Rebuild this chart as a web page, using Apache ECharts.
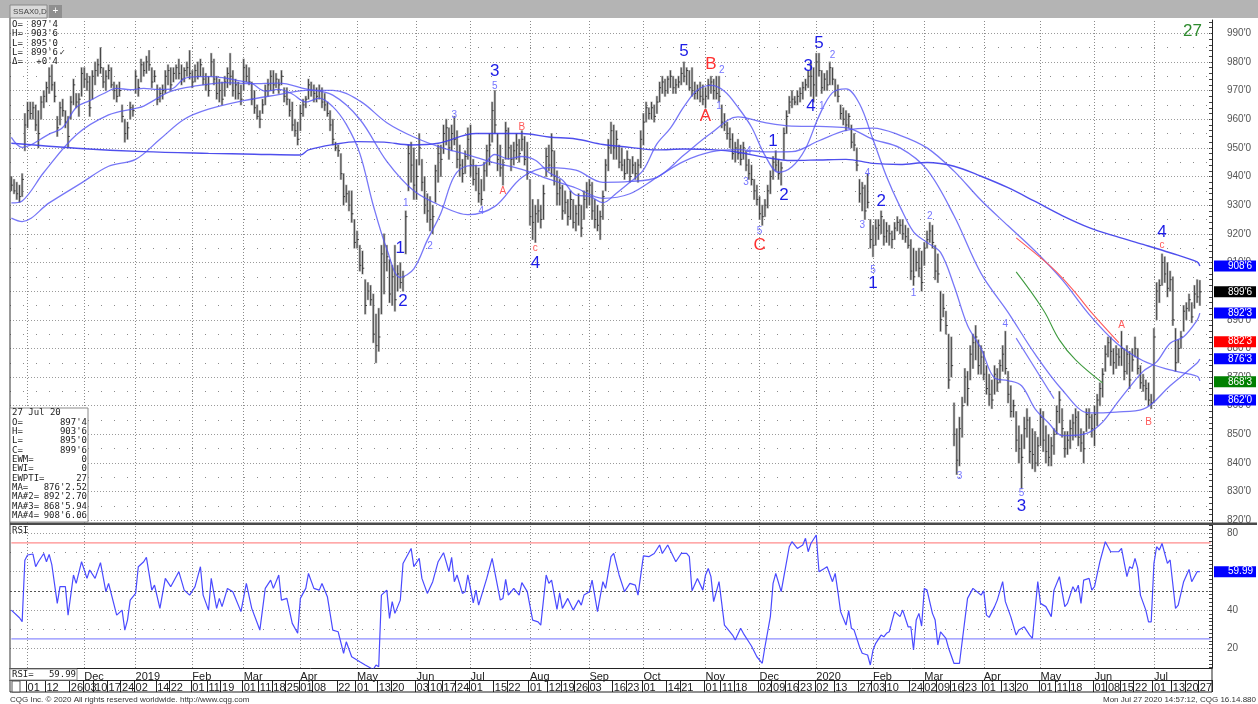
<!DOCTYPE html>
<html><head><meta charset="utf-8">
<script src="https://cdn.jsdelivr.net/npm/echarts@6/dist/echarts.min.js"></script>
<style>html,body{margin:0;padding:0;background:#fff;width:1258px;height:704px;overflow:hidden}#c{width:1258px;height:704px}</style>
</head><body><div id="c"></div><script>
const highs=[940,939,938,937,941,962,966,966,966,965,
963,968,970,973,978,979,973,961,966,967,
963,961,968,974,969,969,978,978,976,975,
977,980,981,985,978,977,979,978,973,972,
973,965,960,959,966,965,977,974,981,980,
982,984,978,977,972,971,972,977,979,978,
978,979,981,979,978,980,984,977,979,980,
981,978,976,975,983,981,975,974,973,975,
978,983,977,974,973,972,981,979,978,973,
970,965,963,967,972,974,977,977,976,974,
977,971,971,967,966,960,959,965,967,968,
974,973,972,971,972,971,969,966,963,960,
952,951,948,941,937,935,935,925,921,916,
914,904,903,902,899,892,894,916,920,916,
911,909,916,909,910,907,928,951,952,950,
946,955,946,940,934,933,930,944,951,951,
958,960,957,958,961,956,951,946,949,957,
958,946,944,943,939,945,951,955,966,970,
955,951,946,959,957,951,952,955,953,956,
954,952,939,932,930,932,930,937,950,951,
955,949,942,939,937,935,932,935,932,930,
934,930,935,938,939,938,932,930,928,935,
946,953,959,958,956,951,950,946,949,946,
947,945,946,956,962,966,964,966,965,968,
973,975,974,975,977,975,974,975,978,980,
978,977,978,973,972,973,972,971,974,975,
974,975,975,965,962,959,957,955,952,953,
951,952,949,946,944,939,937,933,930,932,
937,942,947,949,946,945,957,963,968,970,
968,970,971,973,974,977,980,978,983,983,
977,976,977,980,978,974,972,965,964,963,
962,958,955,950,939,938,937,941,925,923,
925,925,928,925,924,923,921,924,926,925,
925,923,922,918,915,914,915,914,917,921,
924,923,916,913,900,899,893,885,884,861,
852,856,863,873,872,881,885,888,883,881,
879,874,871,869,874,873,876,881,886,872,
867,862,858,853,850,856,859,856,852,851,
849,859,858,853,850,849,852,860,865,859,
851,851,855,857,859,858,852,851,859,859,
857,860,864,868,873,881,884,884,880,881,
880,886,880,881,879,880,884,880,874,871,
869,868,864,887,903,904,913,912,910,907,
905,887,883,886,895,896,899,896,902,904,
903.75];
const lows=[935,934,932,931,933,949,957,960,960,956,
950,960,964,966,969,970,966,954,958,961,
957,950,960,965,964,961,968,971,970,961,
967,972,975,976,971,970,974,971,967,966,
968,959,952,953,960,961,969,968,973,975,
976,977,971,973,965,966,967,969,972,970,
973,974,974,972,973,975,974,971,973,974,
975,972,970,968,975,972,967,966,965,968,
971,972,968,967,967,965,970,973,972,965,
962,960,957,962,965,968,970,969,971,969,
972,966,965,961,956,954,951,956,961,964,
967,968,966,966,967,964,963,961,956,951,
949,947,939,930,931,928,924,915,915,907,
906,892,897,895,882,875,879,892,899,907,
896,895,893,900,901,900,913,935,938,932,
932,944,935,927,924,921,920,931,938,940,
948,951,946,949,951,943,940,938,941,946,
940,937,935,931,930,935,940,944,952,955,
942,940,937,946,946,942,944,946,945,949,
944,939,923,918,917,924,922,925,940,942,
940,937,930,930,925,927,923,925,922,921,
923,919,925,929,930,925,922,921,918,925,
935,942,948,946,946,943,942,939,941,938,
941,939,938,943,951,959,960,960,959,962,
966,969,968,969,971,969,969,971,972,973,
972,970,968,967,967,966,965,964,967,969,
967,967,966,957,956,953,950,946,945,946,
944,946,942,939,937,932,930,925,923,926,
929,934,939,942,939,937,946,955,962,964,
965,965,966,967,970,971,968,966,968,975,
969,970,970,972,972,968,966,960,958,956,
957,950,949,942,931,928,925,929,915,912,
916,918,920,916,917,916,915,918,921,920,
918,917,915,904,902,907,905,900,909,915,
917,915,904,903,886,891,885,866,870,846,
836,839,849,861,860,869,873,876,871,871,
869,864,860,859,864,865,868,872,871,861,
856,856,844,840,831,845,849,840,838,837,
839,846,844,840,839,839,843,850,854,849,
842,843,845,848,849,846,844,840,851,852,
849,846,853,860,863,872,877,874,871,873,
874,874,869,871,866,872,877,871,866,865,
862,860,859,861,890,896,902,903,898,900,
888,872,875,880,886,890,893,889,894,896,
895];
const closes=[937,935,934,933,939,958,963,962,964,958,
955,966,968,971,975,972,968,957,964,963,
959,954,966,972,966,967,976,974,973,964,
975,977,979,978,973,975,977,972,970,968,
970,961,955,957,964,963,975,971,979,977,
980,979,973,975,967,969,970,975,977,972,
976,978,976,974,977,978,976,973,977,975,
979,974,972,970,980,974,969,970,967,973,
976,975,970,972,969,967,978,975,973,967,
964,961,960,965,970,972,975,972,974,972,
975,968,967,963,958,956,953,962,965,967,
972,970,969,968,970,966,965,962,958,953,
950,949,941,933,934,930,927,917,918,909,
908,895,900,897,885,881,884,913,910,912,
899,905,897,906,903,905,926,948,944,937,
940,950,938,930,928,925,926,942,948,946,
955,957,950,955,953,946,944,941,947,953,
944,939,941,934,932,942,949,951,963,958,
946,943,944,956,950,946,949,951,948,953,
946,941,926,924,927,928,925,934,947,944,
949,940,934,936,928,931,926,932,924,927,
930,922,932,935,937,928,925,923,926,933,
944,950,956,950,953,945,944,941,946,940,
944,941,944,953,959,964,962,964,961,966,
971,973,970,974,975,971,972,973,976,975,
977,971,970,969,970,968,967,968,972,973,
970,969,968,959,958,955,953,948,950,948,
946,950,944,941,939,935,932,927,926,930,
935,940,945,944,941,943,955,961,966,967,
966,968,969,971,972,975,975,972,980,977,
971,974,972,978,974,970,968,962,960,958,
961,952,951,944,934,936,928,931,918,916,
922,923,926,919,921,920,918,922,924,923,
920,919,916,907,905,910,908,903,915,918,
921,917,907,906,890,894,888,869,874,850,
841,852,860,870,866,878,882,884,874,877,
871,866,864,862,871,868,874,878,873,864,
858,860,848,845,842,852,855,844,843,840,
846,856,848,844,842,846,850,858,862,852,
845,848,852,854,856,849,847,845,857,856,
852,857,862,866,871,878,882,879,875,878,
877,880,872,878,869,876,880,873,868,867,
866,862,861,884,900,902,910,906,901,904,
890,875,880,884,893,894,897,891,899,898,
899.75];
// moving averages: [bar index, value]
const ma20=[[0,953.7],[4,950.2],[14,954.8],[19,957.1],[24,964.1],[29,966.5],[34,968.9],[39,970.8],[44,970.3],[49,970.8],[54,970.4],[59,970.5],[64,974.2],[69,974.9],[74,974.9],[79,974.4],[84,973.5],[89,972.5],[94,969.8],[99,970.4],[104,968.8],[109,966.0],[114,967.4],[119,964.4],[124,958.2],[129,948.1],[134,929.9],[139,914.7],[144,904.8],[149,907.8],[154,917.8],[159,927.2],[164,940.2],[169,943.7],[174,943.9],[179,947.7],[184,946.2],[189,947.0],[194,945.7],[199,941.4],[204,938.8],[209,933.5],[214,933.1],[219,930.9],[224,934.2],[229,938.0],[234,942.3],[239,951.4],[244,956.9],[249,964.4],[254,970.2],[259,971.8],[264,969.8],[269,964.2],[274,957.3],[279,947.4],[284,941.5],[289,943.4],[294,949.7],[299,961.1],[304,969.3],[309,970.6],[314,965.4],[319,952.9],[324,940.0],[329,929.5],[334,920.7],[339,917.0],[344,913.5],[349,901.9],[354,888.0],[359,880.0],[364,869.7],[369,868.8],[374,867.0],[379,858.9],[384,854.0],[389,849.6],[394,849.7],[399,850.7],[404,854.3],[409,860.5],[414,866.5],[419,872.0],[424,875.3],[429,881.8],[434,884.1],[439,889.9],[440,892.3]];
const ma50=[[0,930.8],[4,931.5],[12,941.4],[24,954.5],[36,961.5],[46,963.8],[49,964.6],[59,969.7],[69,971.7],[79,972.8],[89,972.4],[99,972.6],[109,970.6],[119,968.4],[129,960.0],[139,945.3],[149,935.0],[159,929.8],[169,926.7],[179,929.6],[189,939.7],[199,943.1],[209,942.2],[219,938.0],[229,938.3],[239,939.7],[249,947.5],[259,955.1],[269,960.8],[279,958.8],[289,957.6],[299,957.5],[309,957.1],[319,953.0],[329,950.0],[339,942.4],[349,926.3],[359,906.2],[369,892.6],[379,878.0],[389,865.6],[399,857.5],[409,857.8],[419,858.8],[429,867.0],[439,874.9],[440,876.3]];
const ma100=[[0,925.5],[4,924.3],[14,930.8],[26,937.8],[36,943.6],[46,946],[55,953],[64,960],[73,963.5],[86,966.5],[99,968.6],[109,970.1],[119,970.1],[129,966.4],[139,958.8],[149,953.8],[159,950.2],[169,947.6],[179,944.8],[189,942.5],[199,939.1],[209,936.0],[219,932.4],[229,934.0],[239,939.7],[249,945.3],[259,948.6],[269,949.4],[279,948.6],[289,948.7],[299,952.5],[309,956.1],[319,956.9],[329,954.4],[339,950.0],[349,941.9],[359,931.7],[369,922.8],[379,914.0],[389,904.0],[399,891.9],[409,882.0],[419,875.7],[429,872.5],[439,870.3],[440,868.7]];
const ma200=[[0,951.6],[24,949.9],[49,948.7],[73,948.1],[90,947.8],[107,947.5],[110,949.3],[120,951.3],[128,952.2],[138,952],[148,951],[158,951.6],[172,955],[189,955],[199,953.8],[209,953.1],[219,951.2],[229,950.2],[239,949.3],[249,949.6],[259,949.4],[269,948.5],[279,946.7],[289,945.6],[299,945.8],[309,946.0],[319,944.6],[329,944.2],[339,944.9],[349,943.6],[359,940.1],[369,936.1],[379,931.3],[389,926.4],[399,922.2],[409,919.1],[419,916.3],[429,913.4],[439,910.2],[440,908.8]];
const redProj=[[372,918.6],[382,910.9],[388,905.7],[394,899.4],[400,892.4],[410,882.0]];
const greenProj=[[372,906.7],[382,893.5],[388,883],[394,876],[404,868]];
const blueProj=[[372,883.6],[386,862.5]];
const rsi=[[0,40],[3,36],[4,34],[5,66],[6,68.7],[8,69.2],[9,62.6],[10,65.2],[12,69.5],[13,65.2],[14,69],[15,63.5],[17,43.5],[18,52.2],[20,52.2],[21,37.4],[23,58.3],[24,53.9],[26,65.2],[28,56.5],[29,60.9],[31,56.5],[33,64.7],[35,49.6],[36,53.9],[39,37.4],[41,40],[42,29.6],[43,34.8],[44,45.2],[46,48.7],[47,62.6],[49,65.2],[50,67.5],[52,50.4],[53,53],[55,40.9],[57,56.5],[59,52.2],[60,54.8],[62,60],[64,50.4],[66,47.8],[68,52.2],[70,62.6],[71,47.8],[73,40],[74,56.5],[76,40.9],[77,46.1],[78,41.8],[80,51.3],[82,49.6],[85,39.2],[87,53.9],[89,40.9],[92,29.6],[94,51.3],[96,55.6],[97,51.3],[99,58.3],[100,45.2],[102,46.1],[104,33.1],[106,27.9],[107,46.1],[109,51.3],[110,59.1],[112,51.3],[114,50.4],[115,53.9],[117,47],[119,29.6],[121,28.7],[123,17.5],[124,23.5],[126,15.7],[129,13.1],[131,11.4],[134,9.1],[135,11.4],[136,10.5],[137,47.8],[139,50.4],[140,35.7],[141,44.4],[142,38.3],[144,45.2],[145,64.3],[148,72.1],[149,62.6],[151,66.9],[152,56.5],[154,48.7],[156,54.8],[158,65.2],[160,69.9],[162,60],[163,67.5],[164,54.8],[165,58.3],[167,48.7],[168,49.6],[169,58.3],[171,43.8],[172,50.4],[173,42.6],[176,56.5],[178,66.9],[181,45.2],[182,46.1],[183,56],[184,47.8],[186,51.3],[188,47.8],[189,54.3],[191,49.6],[193,34.8],[195,33.9],[196,32.2],[198,58.3],[199,53.9],[200,55.6],[202,40.4],[203,49],[204,40.9],[206,46.1],[208,40],[210,45.2],[211,42.6],[212,47.8],[214,49.6],[215,55.6],[217,39.2],[219,54.8],[220,51.3],[222,67.8],[223,69.5],[225,58.3],[227,49.6],[229,53.9],[231,53],[232,47.8],[234,68.2],[236,67.8],[238,69.5],[240,73.9],[241,69.5],[243,73.9],[246,65.2],[248,69.5],[250,69.5],[251,67.8],[252,50.1],[254,56.5],[256,50.4],[257,58.3],[258,61.7],[259,57.4],[260,44.4],[262,54.8],[264,32.2],[265,30.5],[267,27],[268,24.4],[270,30.5],[271,27.9],[273,23.5],[274,21.3],[276,15.7],[278,12.3],[279,20.9],[281,36.6],[282,53.9],[283,59.1],[285,49.6],[286,57.4],[288,73],[289,75.6],[291,72.1],[293,73.9],[294,77.4],[295,70.4],[296,74.7],[298,79.1],[299,60],[301,61.7],[302,62.6],[304,54.8],[305,59.1],[306,49.6],[307,39.2],[309,32.2],[310,39.7],[311,30.5],[312,29.6],[314,20.9],[315,17.5],[317,16.6],[318,11.4],[319,19.2],[320,22.7],[322,27],[323,26.1],[324,27.9],[325,28.7],[327,39.2],[329,36.6],[330,40],[332,31.3],[333,31.3],[334,19.2],[335,34.8],[336,38.3],[337,31.7],[338,51.3],[339,50.4],[341,38.3],[342,34.8],[343,21.8],[344,28.7],[346,25.3],[347,20.1],[349,12.2],[351,12.2],[352,23.5],[354,46.1],[356,51.3],[359,47.8],[360,50.1],[361,37.4],[362,36.2],[364,41.8],[365,45.2],[367,54.8],[368,44.4],[370,36.6],[372,27],[373,29.6],[375,31.3],[377,27],[378,25.3],[380,54.8],[381,43.5],[383,41.8],[385,36.6],[386,50.4],[388,57.4],[389,49.6],[390,41.8],[391,43.5],[393,52.2],[394,49.6],[395,53],[396,43.5],[397,55.6],[399,56.5],[400,50.4],[401,52.2],[403,65.2],[405,75.6],[407,70.4],[410,70.4],[411,72.1],[413,57.4],[414,62.6],[415,61.7],[416,66.9],[417,61.7],[418,47.8],[420,40],[421,33.9],[422,33.9],[423,64.3],[424,73],[425,71.3],[426,74.7],[428,64.3],[429,66.1],[431,40.9],[432,42.6],[434,54.8],[436,61.2],[437,54.8],[439,60],[440,59.99]];
// RSI overbought / oversold levels
const rsiUpper=75, rsiLower=25;
// Elliott wave annotations: [bar index, price, text, kind]
const waveLabels=[[144,915,'1','B'],[145,896.3,'2','B'],[146,930.7,'1','s'],[155,915.5,'2','s'],[164,961.5,'3','s'],[174,928,'4','s'],[179,976.6,'3','B'],[179,971.4,'5','s'],[182,934.7,'A','r'],[189,957.2,'B','r'],[194,915,'c','r'],[194,909.7,'4','B'],[249,983.6,'5','B'],[257,960.9,'A','R'],[259,979,'B','R'],[262,964.4,'1','s'],[263,977.2,'2','s'],[272,938,'3','s'],[273,948.7,'4','s'],[277,921,'5','s'],[277,916.1,'C','R'],[282,952.2,'1','B'],[286,933.6,'2','B'],[295,978.4,'3','B'],[296,964.4,'4','B'],[299,986.5,'5','B'],[300,964.4,'1','s'],[304,982.4,'2','s'],[315,923.1,'3','s'],[317,941.1,'4','s'],[319,907.4,'5','s'],[319,902.7,'1','B'],[322,931.2,'2','B'],[334,899.2,'1','s'],[340,926,'2','s'],[351,835.3,'3','s'],[368,888.5,'4','s'],[374,829.4,'5','s'],[374,824.8,'3','B'],[411,888,'A','r'],[421,854.4,'B','r'],[426,916,'c','r'],[426,920.5,'4','B']];
const priceTicks=[820,830,840,850,860,870,880,890,900,910,920,930,940,950,960,970,980,990];
const rsiTicks=[20,40,60,80];
const priceTags=[[908.75,"908'6",'#0000ff'],[899.75,"899'6",'#000000'],[892.375,"892'3",'#0000ff'],[882.375,"882'3",'#ff0000'],[876.375,"876'3",'#0000ff'],[868.375,"868'3",'#008000'],[862,"862'0",'#0000ff']];
const rsiTag=[59.99,'59.99','#0000ff'];
const dayLabels=['2018-11-01','2018-11-12','2018-11-26','2018-12-03','2018-12-10','2018-12-17','2018-12-24','2019-01-02','2019-01-14','2019-01-22','2019-02-01','2019-02-11','2019-02-19','2019-03-01','2019-03-11','2019-03-18','2019-03-25','2019-04-01','2019-04-08','2019-04-22','2019-05-01','2019-05-13','2019-05-20','2019-06-03','2019-06-10','2019-06-17','2019-06-24','2019-07-01','2019-07-15','2019-07-22','2019-08-01','2019-08-12','2019-08-19','2019-08-26','2019-09-03','2019-09-16','2019-09-23','2019-10-01','2019-10-14','2019-10-21','2019-11-01','2019-11-11','2019-11-18','2019-12-02','2019-12-09','2019-12-16','2019-12-23','2020-01-02','2020-01-13','2020-01-27','2020-02-03','2020-02-10','2020-02-24','2020-03-02','2020-03-09','2020-03-16','2020-03-23','2020-04-01','2020-04-13','2020-04-20','2020-05-01','2020-05-11','2020-05-18','2020-06-01','2020-06-08','2020-06-15','2020-06-22','2020-07-01','2020-07-13','2020-07-20','2020-07-27'];
const holidays=['2018-11-22','2018-12-05','2018-12-25','2019-01-01','2019-01-21','2019-02-18','2019-04-19','2019-05-27','2019-07-04','2019-09-02','2019-11-28','2019-12-25','2020-01-01','2020-01-20','2020-02-17','2020-04-10','2020-05-25','2020-07-03'];
const monthNames=['Jan','Feb','Mar','Apr','May','Jun','Jul','Aug','Sep','Oct','Nov','Dec'];

// trading-day categories
const cats=[];
for(let t=Date.UTC(2018,9,24);t<=Date.UTC(2020,6,31);t+=86400000){const d=new Date(t);const wd=d.getUTCDay();const s=d.toISOString().slice(0,10);if(wd!==0&&wd!==6&&holidays.indexOf(s)<0)cats.push(s);}
const monthStarts=[];
for(let k=1;k<cats.length;k++){if(cats[k].slice(5,7)!==cats[k-1].slice(5,7))monthStarts.push(cats[k]);}
const monthSet=new Set(monthStarts);const daySet=new Set(dayLabels);
const lastCat=cats.length-1;

const chart=echarts.init(document.getElementById('c'),null,{renderer:'canvas'});
const SANS='"Liberation Sans", Arial, sans-serif';
const MONO='"DejaVu Sans Mono", monospace';
const fives=[];for(let v=825;v<=985;v+=10)fives.push(v);
const priceGrid=[].concat(
 priceTicks.map(v=>({yAxis:v,lineStyle:{color:'#9a9a9a',type:[1,2],width:1}})),
 fives.map(v=>({yAxis:v,lineStyle:{color:'#8a8a8a',type:[1,12],width:1}})),
 monthStarts.map(c=>({xAxis:c,lineStyle:{color:'#8a8a8a',type:[1,2],width:1}})));
const rsiGrid=[].concat(
 [80,60,40,20].map(v=>({yAxis:v,lineStyle:{color:'#9a9a9a',type:[1,2],width:1}})),
 [70,30].map(v=>({yAxis:v,lineStyle:{color:'#8a8a8a',type:[1,10],width:1}})),
 [{yAxis:50,lineStyle:{color:'#555555',type:[2,2],width:1}}],
 monthStarts.map(c=>({xAxis:c,lineStyle:{color:'#8a8a8a',type:[1,2],width:1}})));
const waveStyle={B:{color:'#1c1ce6',font:'17px '+SANS},s:{color:'#7474ff',font:'10px '+SANS},R:{color:'#ff3030',font:'17px '+SANS},r:{color:'#ff5a5a',font:'10px '+SANS}};
const maLine=(data,w,c)=>({type:'line',xAxisIndex:0,yAxisIndex:0,data:data,showSymbol:false,smooth:0.35,silent:true,lineStyle:{color:c,width:w},z:3});
const tickVals=[];for(let v=820;v<=994;v+=2)tickVals.push(v);
const rsiTickVals=[];for(let v=10;v<=84;v+=2)rsiTickVals.push(v);

chart.setOption({
 animation:false,
 grid:[{left:10,top:20,width:1202,height:503},{left:10,top:525,width:1202,height:143}],
 xAxis:[
  {gridIndex:0,type:'category',data:cats,boundaryGap:true,axisLine:{show:false},axisTick:{show:false},axisLabel:{show:false}},
  {gridIndex:1,type:'category',data:cats,boundaryGap:true,axisLine:{show:true,lineStyle:{color:'#222'}},axisTick:{show:false},
   axisLabel:{interval:(i,v)=>monthSet.has(v),formatter:v=>{const m=+v.slice(5,7);return m===1?v.slice(0,4):monthNames[m-1];},align:'left',margin:3,fontSize:11,color:'#222',fontFamily:SANS}},
  {gridIndex:1,type:'category',data:cats,boundaryGap:true,position:'bottom',offset:12,axisLine:{show:true,lineStyle:{color:'#222'}},
   axisTick:{show:true,interval:(i,v)=>daySet.has(v),length:12,lineStyle:{color:'#222'}},
   axisLabel:{interval:(i,v)=>daySet.has(v),formatter:v=>v.slice(8,10),align:'left',margin:2,fontSize:11,color:'#222',fontFamily:SANS}}
 ],
 yAxis:[
  {gridIndex:0,type:'value',position:'right',min:819.075,max:994.64,splitLine:{show:false},
   axisLine:{show:true,lineStyle:{color:'#222'}},axisTick:{show:true,inside:true,length:3,customValues:tickVals,lineStyle:{color:'#444'}},
   axisLabel:{customValues:priceTicks,formatter:v=>v+"'0",margin:15,fontSize:10,color:'#555',fontFamily:SANS}},
  {gridIndex:1,type:'value',position:'right',min:9.84,max:84.32,splitLine:{show:false},
   axisLine:{show:true,lineStyle:{color:'#222'}},axisTick:{show:true,inside:true,length:3,customValues:rsiTickVals,lineStyle:{color:'#444'}},
   axisLabel:{customValues:rsiTicks,margin:15,fontSize:10,color:'#555',fontFamily:SANS}}
 ],
 series:[
  {type:'custom',name:'bars',xAxisIndex:0,yAxisIndex:0,silent:true,z:2,
   data:highs.map((h,i)=>[i,h,lows[i],closes[i]]),encode:{x:0,y:[1,2,3]},
   renderItem:(p,api)=>{const hi=api.coord([api.value(0),api.value(1)]);const lo=api.coord([api.value(0),api.value(2)]);const cl=api.coord([api.value(0),api.value(3)]);
     return {type:'group',children:[
      {type:'line',shape:{x1:hi[0],y1:hi[1]-0.5,x2:lo[0],y2:lo[1]+0.5},style:{stroke:'#b2b2b2',lineWidth:2.4}},
      {type:'line',shape:{x1:hi[0],y1:hi[1],x2:lo[0],y2:lo[1]},style:{stroke:'#3a3a3a',lineWidth:0.9}},
      {type:'line',shape:{x1:cl[0],y1:cl[1],x2:cl[0]+1.8,y2:cl[1]},style:{stroke:'#3a3a3a',lineWidth:1}}]};},
   markLine:{silent:true,symbol:['none','none'],label:{show:false},animation:false,data:priceGrid,z:1}},
  maLine(ma200,1.4,'rgba(60,60,235,0.9)'),
  maLine(ma100,1.3,'rgba(85,85,245,0.8)'),
  maLine(ma50,1.3,'rgba(85,85,245,0.8)'),
  maLine(ma20,1.3,'rgba(85,85,245,0.8)'),
  {type:'line',xAxisIndex:0,yAxisIndex:0,data:redProj,showSymbol:false,smooth:0.3,silent:true,lineStyle:{color:'#ff5a5a',width:1.1},z:3},
  {type:'line',xAxisIndex:0,yAxisIndex:0,data:greenProj,showSymbol:false,smooth:0.4,silent:true,lineStyle:{color:'#3e9a3e',width:1.1},z:3},
  {type:'line',xAxisIndex:0,yAxisIndex:0,data:blueProj,showSymbol:false,silent:true,lineStyle:{color:'rgba(85,85,245,0.8)',width:1.2},z:3},
  {type:'custom',name:'waves',xAxisIndex:0,yAxisIndex:0,silent:true,z:5,clip:false,
   data:waveLabels.map(w=>[w[0],w[1]]),
   renderItem:(p,api)=>{const w=waveLabels[p.dataIndex];const pt=api.coord([w[0],w[1]]);const st=waveStyle[w[3]];
     return {type:'text',x:pt[0],y:pt[1],style:{text:w[2],fill:st.color,font:st.font,align:'center',verticalAlign:'middle'}};}},
  {type:'line',xAxisIndex:1,yAxisIndex:1,data:[[0,rsiUpper],[lastCat,rsiUpper]],showSymbol:false,silent:true,lineStyle:{color:'#ff8c8c',width:1.2},z:2},
  {type:'line',xAxisIndex:1,yAxisIndex:1,data:[[0,rsiLower],[lastCat,rsiLower]],showSymbol:false,silent:true,lineStyle:{color:'#8c8cff',width:1.2},z:2},
  {type:'line',name:'RSI',xAxisIndex:1,yAxisIndex:1,data:rsi,showSymbol:false,silent:true,lineStyle:{color:'#4a4aff',width:1.2},z:3,
   markLine:{silent:true,symbol:['none','none'],label:{show:false},animation:false,data:rsiGrid,z:1}}
 ]
});

// decorations and value tags
const G=[];
G.push({type:'rect',shape:{x:0,y:0,width:1258,height:18},style:{fill:'#b4b4b4'},z:10});
G.push({type:'rect',shape:{x:10,y:5,width:37,height:13},style:{fill:'#d9d9d9',stroke:'#8a8a8a'},z:11});
G.push({type:'text',x:13,y:12,style:{text:'SSAX0,D',font:'8px '+SANS,fill:'#444',verticalAlign:'middle'},z:12});
G.push({type:'rect',shape:{x:49,y:5,width:13,height:13},style:{fill:'#8f8f8f'},z:11});
G.push({type:'text',x:55.5,y:11.5,style:{text:'+',font:'10px '+SANS,fill:'#fff',align:'center',verticalAlign:'middle'},z:12});
G.push({type:'line',shape:{x1:10,y1:18,x2:10,y2:692},style:{stroke:'#333',lineWidth:1},z:10});
G.push({type:'line',shape:{x1:1212,y1:668,x2:1212,y2:692},style:{stroke:'#222',lineWidth:1},z:10});
G.push({type:'line',shape:{x1:10,y1:692,x2:1212,y2:692},style:{stroke:'#222',lineWidth:1},z:10});
G.push({type:'rect',shape:{x:10,y:522.5,width:1247,height:2.5},style:{fill:'#4a4a4a'},z:10});
G.push({type:'text',x:1202,y:31,style:{text:'27',font:'17px '+SANS,fill:'#2e8b2e',align:'right',verticalAlign:'middle'},z:10});
// top-left quote
const tl=[['O=',"897'4"],['H=',"903'6"],['L=',"895'0"],['L=',"899'6"],['\u0394=',"+0'4"]];
tl.forEach((r,k)=>{const y=24.5+k*9.4;G.push({type:'text',x:12,y:y,style:{text:r[0],font:'9px '+MONO,fill:'#222',verticalAlign:'middle'},z:10});G.push({type:'text',x:58,y:y,style:{text:r[1],font:'9px '+MONO,fill:'#222',align:'right',verticalAlign:'middle'},z:10});});
G.push({type:'text',x:58.5,y:24.5+3*9.4,style:{text:'\u2713',font:'8px '+SANS,fill:'#222',verticalAlign:'middle'},z:10});
// data box
const box=[['O=',"897'4"],['H=',"903'6"],['L=',"895'0"],['C=',"899'6"],['EWM=','0'],['EWI=','0'],['EWPTI=','27'],['MA=',"876'2.52"],['MA#2=',"892'2.70"],['MA#3=',"868'5.94"],['MA#4=',"908'6.06"]];
G.push({type:'rect',shape:{x:10,y:408,width:78,height:114},style:{fill:'#fff',stroke:'#8a8a8a'},z:10});
G.push({type:'text',x:12,y:413,style:{text:'27 Jul 20',font:'9px '+MONO,fill:'#222',verticalAlign:'middle'},z:11});
box.forEach((r,k)=>{const y=422.3+k*9.35;G.push({type:'text',x:12,y:y,style:{text:r[0],font:'9px '+MONO,fill:'#222',verticalAlign:'middle'},z:11});G.push({type:'text',x:87,y:y,style:{text:r[1],font:'9px '+MONO,fill:'#222',align:'right',verticalAlign:'middle'},z:11});});
// RSI captions
G.push({type:'text',x:12,y:530.5,style:{text:'RSI',font:'9px '+MONO,fill:'#222',verticalAlign:'middle'},z:10});
G.push({type:'rect',shape:{x:10,y:669,width:67,height:11},style:{fill:'#fff',stroke:'#8a8a8a'},z:10});
G.push({type:'text',x:12,y:674.5,style:{text:'RSI=',font:'9px '+MONO,fill:'#222',verticalAlign:'middle'},z:11});
G.push({type:'text',x:76,y:674.5,style:{text:'59.99',font:'9px '+MONO,fill:'#222',align:'right',verticalAlign:'middle'},z:11});
G.push({type:'rect',shape:{x:12,y:681,width:8,height:11},style:{fill:'#fff',stroke:'#555'},z:10});
// footer
G.push({type:'text',x:10,y:699.5,style:{text:'CQG Inc. \u00a9 2020 All rights reserved worldwide. http://www.cqg.com',font:'8px '+SANS,fill:'#333',verticalAlign:'middle'},z:10});
G.push({type:'text',x:1256,y:699.5,style:{text:'Mon Jul 27 2020 14:57:12, CQG 16.14.880',font:'8px '+SANS,fill:'#333',align:'right',verticalAlign:'middle'},z:10});
// value tags on the axes
priceTags.forEach(t=>{const y=chart.convertToPixel({yAxisIndex:0},t[0]);G.push({type:'rect',shape:{x:1214,y:y-5.5,width:42,height:11},style:{fill:t[2]},z:20});G.push({type:'text',x:1228,y:y,style:{text:t[1],font:'10px '+SANS,fill:'#fff',verticalAlign:'middle'},z:21});});
{const y=chart.convertToPixel({yAxisIndex:1},rsiTag[0]);G.push({type:'rect',shape:{x:1214,y:y-5.5,width:42,height:11},style:{fill:rsiTag[2]},z:20});G.push({type:'text',x:1228,y:y,style:{text:rsiTag[1],font:'10px '+SANS,fill:'#fff',verticalAlign:'middle'},z:21});}
chart.setOption({graphic:G});
</script></body></html>
